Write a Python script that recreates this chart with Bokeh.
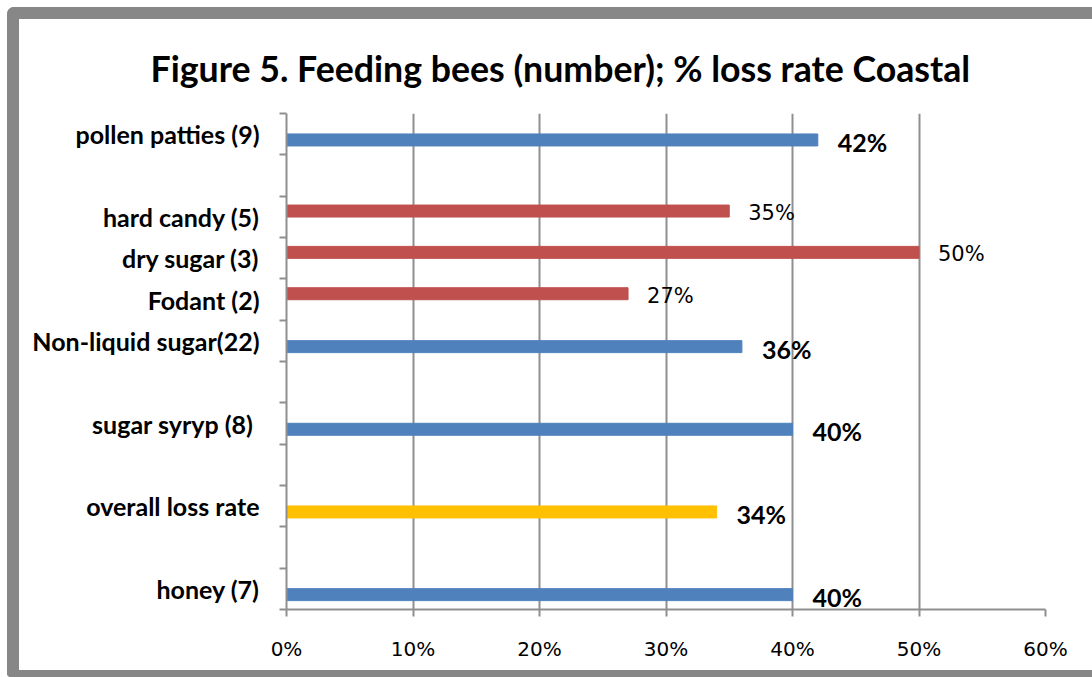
from bokeh.plotting import figure
from bokeh.models import ColumnDataSource, FixedTicker, Range1d
from bokeh.embed import file_html
from bokeh.resources import INLINE
from bokeh.core.properties import value

# ---------------- data ----------------
title_text = "Figure 5. Feeding bees (number); % loss rate Coastal"
# category slots from bottom to top ("" = empty slot)
slots = ["honey (7)", "", "overall loss rate", "", "sugar syryp (8) ", "",
         "Non-liquid sugar(22)", "Fodant (2)", "dry sugar (3)", "hard candy (5)", "",
         "pollen patties (9)"]
main_cats = ["honey (7)", "overall loss rate", "sugar syryp (8) ", "Non-liquid sugar(22)", "pollen patties (9)"]
main_vals = [0.40, 0.34, 0.40, 0.36, 0.42]
main_colors = ["#4F81BD", "#FFC000", "#4F81BD", "#4F81BD", "#4F81BD"]
sub_cats = ["Fodant (2)", "dry sugar (3)", "hard candy (5)"]
sub_vals = [0.27, 0.50, 0.35]
sub_colors = ["#C0504D", "#C0504D", "#C0504D"]
x_ticks = [0.0, 0.1, 0.2, 0.3, 0.4, 0.5, 0.6]
x_tick_labels = ["0%", "10%", "20%", "30%", "40%", "50%", "60%"]

# ---------------- layout helpers ----------------
BAR_H = 0.29
OFF = 0.14
GRID = "#8f8f8f"

def pos(cat, off):
    return slots.index(cat) + 0.5 + off

main_src = ColumnDataSource(dict(
    y=[pos(c, -OFF) for c in main_cats], v=main_vals, color=main_colors,
    lab=[f"{round(v * 100)}%" for v in main_vals]))
sub_src = ColumnDataSource(dict(
    y=[pos(c, OFF) for c in sub_cats], v=sub_vals, color=sub_colors,
    lab=[f"{round(v * 100)}%" for v in sub_vals]))

p = figure(width=1085, height=670, x_range=Range1d(0, 0.6), y_range=Range1d(0, len(slots)),
           output_backend="svg", toolbar_location=None,
           min_border_left=267, min_border_right=59, min_border_top=94, min_border_bottom=80)
p.styles = {"margin-left": "7px", "margin-top": "7px", "overflow": "hidden",
            "border-left": "12px solid #878787", "border-top": "12px solid #878787",
            "border-bottom": "7px solid #878787", "border-top-left-radius": "7px",
            "border-bottom-left-radius": "4px"}
p.background_fill_color = "white"
p.border_fill_color = "white"
p.outline_line_color = None

p.title.text = title_text
p.title.text_font = "Lato"
p.title.text_font_style = "bold"
p.title.text_font_size = "35.7px"
p.title.text_color = "black"
p.title.align = "left"
p.title.offset = -136
p.title.standoff = 48

p.hbar(y="y", right="v", left=0, height=BAR_H, color="color", source=main_src)
p.hbar(y="y", right="v", left=0, height=BAR_H, color="color", source=sub_src)

p.text(x="v", y="y", text="lab", source=main_src, x_offset=20, y_offset=2,
       text_align="left", text_baseline="middle", text_font=value("Lato"),
       text_font_style="bold", text_font_size="25px", text_color="black")
p.text(x="v", y="y", text="lab", source=sub_src, x_offset=19, y_offset=2,
       text_align="left", text_baseline="middle", text_font=value("DejaVu Sans"),
       text_font_size="21px", text_color="black")

# x axis
xt = FixedTicker(ticks=x_ticks)
p.xaxis.ticker = xt
p.xaxis.major_label_overrides = {t: l for t, l in zip(x_ticks, x_tick_labels)}
p.xaxis.axis_line_color = GRID
p.xaxis.axis_line_width = 2
p.xaxis.major_tick_line_color = GRID
p.xaxis.major_tick_line_width = 2
p.xaxis.major_tick_out = 7
p.xaxis.major_tick_in = 0
p.xaxis.minor_tick_line_color = None
p.xaxis.major_label_text_font = "DejaVu Sans"
p.xaxis.major_label_text_font_size = "20px"
p.xaxis.major_label_text_color = "black"
p.xaxis.major_label_standoff = 20

p.xgrid.ticker = xt
p.xgrid.grid_line_color = GRID
p.xgrid.grid_line_width = 2
p.ygrid.grid_line_color = None

# y axis
label_pos = [i + 0.5 for i, s in enumerate(slots) if s]
p.yaxis.ticker = FixedTicker(ticks=label_pos, minor_ticks=list(range(len(slots) + 1)))
p.yaxis.major_label_overrides = {i + 0.5: s for i, s in enumerate(slots) if s}
p.yaxis.axis_line_color = GRID
p.yaxis.axis_line_width = 2
p.yaxis.major_tick_line_color = None
p.yaxis.major_tick_out = 0
p.yaxis.major_tick_in = 0
p.yaxis.minor_tick_line_color = GRID
p.yaxis.minor_tick_line_width = 2
p.yaxis.minor_tick_out = 7
p.yaxis.minor_tick_in = 0
p.yaxis.major_label_text_font = "Lato"
p.yaxis.major_label_text_font_style = "bold"
p.yaxis.major_label_text_font_size = "25px"
p.yaxis.major_label_text_color = "black"
p.yaxis.major_label_standoff = 20

open("out.html", "w").write(file_html(p, INLINE))
